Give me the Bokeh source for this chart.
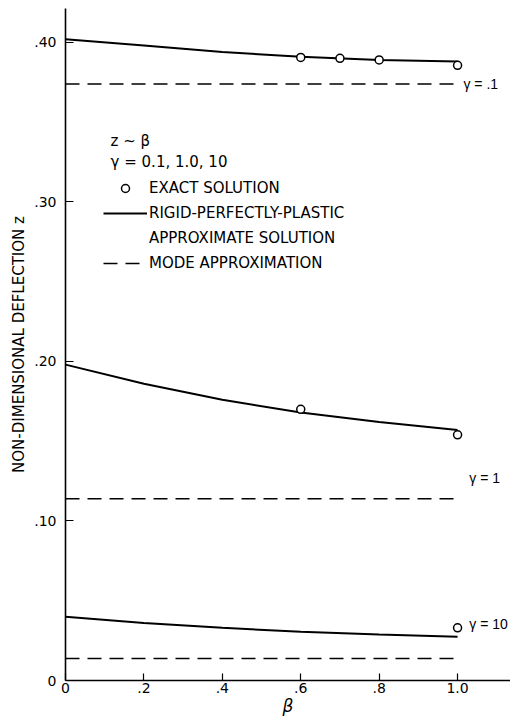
from bokeh.plotting import figure
from bokeh.models import Label, Legend, LegendItem, Range1d, FixedTicker
from bokeh.embed import file_html
from bokeh.resources import INLINE

# ---- data ----
beta_curve = [0.0, 0.2, 0.4, 0.6, 0.8, 1.0]
z_rpp_g01 = [0.402, 0.398, 0.394, 0.391, 0.389, 0.388]
z_rpp_g1 = [0.198, 0.186, 0.176, 0.168, 0.162, 0.157]
z_rpp_g10 = [0.040, 0.036, 0.033, 0.0306, 0.0288, 0.0275]

beta_exact_g01 = [0.6, 0.7, 0.8, 1.0]
z_exact_g01 = [0.3906, 0.390, 0.389, 0.3856]
beta_exact_g1 = [0.6, 1.0]
z_exact_g1 = [0.170, 0.154]
beta_exact_g10 = [1.0]
z_exact_g10 = [0.033]

beta_mode = [0.0, 1.0]
z_mode_g01 = 0.374
z_mode_g1 = 0.114
z_mode_g10 = 0.0138

gamma_labels = ["\u03b3 = .1", "\u03b3 = 1", "\u03b3 = 10"]

x_ticks = [0.0, 0.2, 0.4, 0.6, 0.8, 1.0]
x_tick_labels = ["0", ".2", ".4", ".6", ".8", "1.0"]
y_ticks = [0.0, 0.1, 0.2, 0.3, 0.4]
y_tick_labels = ["0", ".10", ".20", ".30", ".40"]

FONT = "DejaVu Sans"

p = figure(width=510, height=718, output_backend="svg", toolbar_location=None,
           x_range=Range1d(0, 1.135), y_range=Range1d(0, 0.42125),
           min_border_left=65, min_border_right=0, min_border_top=8, min_border_bottom=36)
p.outline_line_color = None
p.grid.visible = False
p.background_fill_color = "white"
p.border_fill_color = "white"

for ax in (p.xaxis[0], p.yaxis[0]):
    ax.axis_line_color = "black"
    ax.axis_line_width = 1.6
    ax.major_tick_line_color = "black"
    ax.major_tick_line_width = 1.2
    ax.major_tick_out = 0
    ax.minor_tick_line_color = None
    ax.major_label_text_font = FONT
    ax.major_label_text_font_size = "14px"
    ax.major_label_text_color = "black"
    ax.axis_label_text_color = "black"
    ax.axis_label_text_font = FONT

p.xaxis.ticker = FixedTicker(ticks=x_ticks)
p.xaxis.major_label_overrides = dict(zip(x_ticks, x_tick_labels))
p.xaxis.major_tick_in = 7
p.xaxis.major_label_standoff = 2
p.xaxis.axis_label = "\u03b2"
p.xaxis.axis_label_text_font_size = "17px"
p.xaxis.axis_label_text_font_style = "italic"
p.xaxis.axis_label_standoff = 0

p.yaxis.ticker = FixedTicker(ticks=y_ticks)
p.yaxis.major_label_overrides = dict(zip(y_ticks, y_tick_labels))
p.yaxis.major_tick_in = 8
p.yaxis.major_label_standoff = 9
p.yaxis.axis_label = "NON-DIMENSIONAL DEFLECTION z"
p.yaxis.axis_label_text_font_size = "15px"
p.yaxis.axis_label_text_font_style = "normal"
p.yaxis.axis_label_standoff = 3

# solid curves (rigid-perfectly-plastic)
solid = None
for z in (z_rpp_g01, z_rpp_g1, z_rpp_g10):
    solid = p.line(beta_curve, z, line_color="black", line_width=2)

# dashed (mode approximation)
dashed = None
for zm in (z_mode_g01, z_mode_g1, z_mode_g10):
    dashed = p.line(beta_mode, [zm, zm], line_color="black", line_width=1.5, line_dash="14 8")

# exact solution circles
circ = None
for bx, bz in ((beta_exact_g01, z_exact_g01), (beta_exact_g1, z_exact_g1), (beta_exact_g10, z_exact_g10)):
    circ = p.scatter(bx, bz, marker="circle", size=8, fill_color="white",
                     line_color="black", line_width=1.5)

spacer = p.line([], [], line_alpha=0)

legend = Legend(items=[
    LegendItem(label="EXACT SOLUTION", renderers=[circ]),
    LegendItem(label="RIGID-PERFECTLY-PLASTIC", renderers=[solid]),
    LegendItem(label="APPROXIMATE SOLUTION", renderers=[spacer]),
    LegendItem(label="MODE APPROXIMATION", renderers=[dashed]),
], location=(38, 407), padding=0, margin=0, spacing=5, label_height=20, glyph_height=20,
    glyph_width=44, label_standoff=2, border_line_alpha=0, background_fill_alpha=0,
    label_text_font=FONT, label_text_font_size="15px", label_text_color="black")
p.add_layout(legend, "center")

# legend heading texts
p.add_layout(Label(x=0.115, y=0.338, text="z ~ \u03b2", text_font=FONT, text_font_size="15px",
                   text_color="black", text_baseline="middle", text_align="left"))
p.add_layout(Label(x=0.115, y=0.325, text="\u03b3 = 0.1, 1.0, 10", text_font=FONT,
                   text_font_size="15px", text_color="black", text_baseline="middle",
                   text_align="left"))

# gamma labels on the right
for lab, zm, xo, yo in zip(gamma_labels, (z_mode_g01, z_mode_g1, z_mode_g10),
                           (1.015, 1.03, 1.03), (0.0, 0.0131, 0.0216)):
    p.add_layout(Label(x=xo, y=zm + yo, text=lab, text_font="Liberation Sans",
                       text_font_size="14px", text_color="black",
                       text_baseline="middle", text_align="left"))

open("out.html", "w").write(file_html(p, INLINE))
